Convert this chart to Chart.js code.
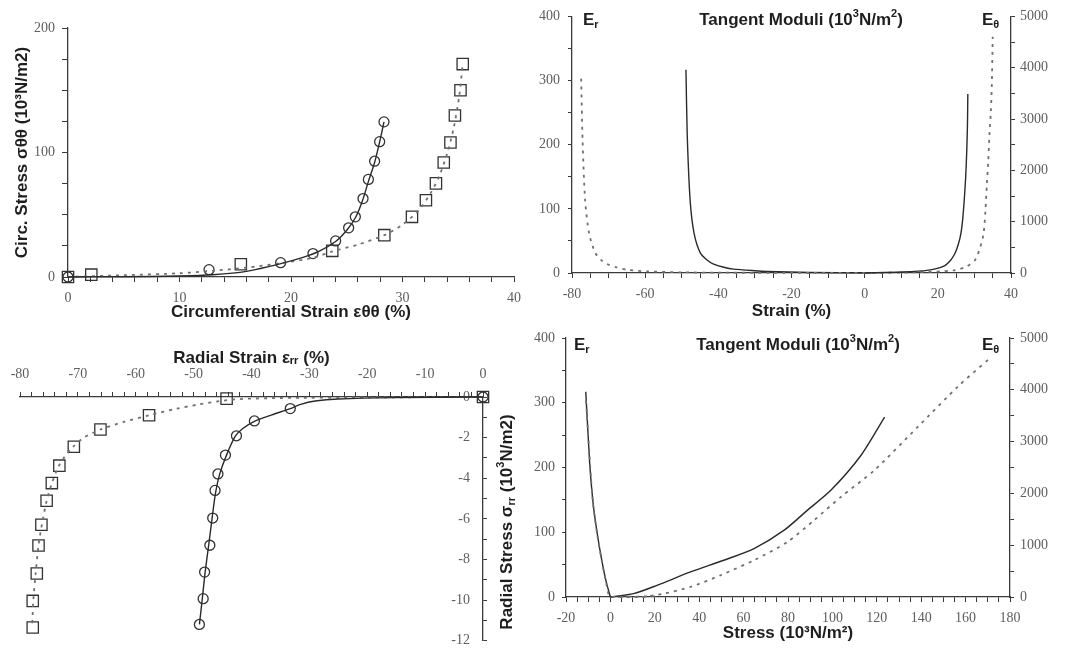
<!DOCTYPE html>
<html><head><meta charset="utf-8">
<script src="https://cdn.jsdelivr.net/npm/chart.js@4.4.0/dist/chart.umd.min.js"></script>
<style>
html,body{margin:0;padding:0;background:#fff;width:1067px;height:650px;overflow:hidden}
.c{position:absolute;left:0;top:0;width:1067px;height:650px}
</style></head><body>
<div class="c"><canvas id="c1"></canvas></div>
<div class="c"><canvas id="c2"></canvas></div>
<div class="c"><canvas id="c3"></canvas></div>
<div class="c"><canvas id="c4"></canvas></div>
<script>
// ---------- Panel 1: circumferential stress vs strain ----------
const p1CircleX = [0, 12.65, 19.07, 21.97, 24.0, 25.17, 25.77, 26.46, 26.94, 27.5, 27.95, 28.34];
const p1CircleY = [0, 5.9, 11.5, 18.8, 29, 39.5, 48.3, 63, 78.4, 93, 108.7, 124.6];
const p1SquareX = [0, 2.09, 15.5, 23.7, 28.37, 30.85, 32.1, 33.0, 33.7, 34.3, 34.7, 35.2, 35.4];
const p1SquareY = [0, 1.9, 10.2, 21, 33.6, 48.3, 61.7, 75.2, 92, 108, 129.7, 150, 171];
const p1SolidX = [0, 5, 10, 13, 16, 19, 21, 22.5, 24, 25, 25.8, 26.4, 26.95, 27.5, 27.95, 28.34];
const p1SolidY = [0, 0.2, 0.8, 1.8, 4.5, 10.5, 15.5, 20.5, 28.5, 37.5, 48, 61, 77, 92, 108.5, 124.6];
const p1DotX = [0, 5, 10, 13, 16, 19, 22, 23.7, 26, 28.37, 30, 31.5, 32.5, 33.3, 34, 34.6, 35.1, 35.4];
const p1DotY = [0, 1.5, 3, 5, 7.5, 11, 15.5, 20.5, 26, 33.6, 42, 54, 67, 81, 99, 120, 146, 171];
const p1XTicks = {min: 0, max: 40, minor: 2, major: 10};
const p1YTicks = {min: 0, max: 200, minor: 25, major: 100};

// ---------- Panel 2: tangent moduli vs strain ----------
const p2ErDotX = [-77.5, -77.1, -76.4, -75.3, -73.6, -72, -70.4, -68, -65, -59.5, -50, -40, -20, 0];
const p2ErDotY = [303, 205, 112.5, 61, 31, 20, 14, 9, 5, 2.5, 1, 0.5, 0.2, 0];
const p2ErSolidX = [-48.85, -48.5, -47.7, -46.6, -44.9, -43, -41.3, -38.5, -35.8, -30, -26.7, -15, 0];
const p2ErSolidY = [317, 215, 112.5, 61, 31, 20, 14, 9, 6, 3.5, 2.5, 0.8, 0];
const p2EtSolidX = [0, 10, 17, 21.5, 23.5, 24.7, 25.6, 26.3, 26.8, 27.2, 27.6, 27.9, 28.1, 28.2];
const p2EtSolidY = [0, 20, 51, 128, 250, 384, 560, 767, 1050, 1407, 1850, 2366, 2900, 3487];
const p2EtDotX = [0, 15, 24.3, 27.9, 30.2, 31.5, 32.5, 33.0, 33.4, 33.8, 34.1, 34.5, 34.75, 35.0];
const p2EtDotY = [0, 15, 51, 128, 256, 480, 767, 1200, 1727, 2200, 2686, 3150, 3645, 4604];
const p2XTicks = {min: -80, max: 40, minor: 5, major: 20};
const p2YTicks = {min: 0, max: 400, minor: 50, major: 100};
const p2Y1Ticks = {min: 0, max: 5000, minor: 500, major: 1000};

// ---------- Panel 3: radial stress vs radial strain ----------
const p3SquareX = [0, -44.3, -57.7, -66.1, -70.7, -73.2, -74.5, -75.4, -76.3, -76.8, -77.1, -77.8, -77.8];
const p3SquareY = [0, -0.08, -0.9, -1.6, -2.45, -3.38, -4.24, -5.11, -6.29, -7.31, -8.69, -10.04, -11.35];
const p3CircleX = [0, -33.3, -39.5, -42.6, -44.5, -45.8, -46.3, -46.7, -47.2, -48.1, -48.35, -49.0];
const p3CircleY = [0, -0.57, -1.18, -1.91, -2.86, -3.79, -4.6, -5.96, -7.3, -8.62, -9.93, -11.2];
const p3SolidX = [0, -15, -25, -29, -31.5, -33.3, -36.5, -39.5, -41.5, -42.8, -44.3, -45.5, -46.2, -46.8, -47.4, -48.0, -48.5, -49.0];
const p3SolidY = [0, -0.03, -0.1, -0.2, -0.36, -0.57, -0.88, -1.2, -1.55, -1.93, -2.85, -3.8, -4.7, -5.95, -7.3, -8.6, -9.93, -11.2];
const p3DotX = [0, -20, -35, -42, -45.5, -49, -53, -57.7, -62, -66.1, -69, -70.8, -72.3, -73.4, -74.5, -75.4, -76.2, -76.8, -77.3, -77.7, -77.9];
const p3DotY = [0, -0.02, -0.05, -0.1, -0.2, -0.36, -0.58, -0.9, -1.22, -1.6, -2.0, -2.45, -2.95, -3.45, -4.25, -5.12, -6.25, -7.3, -8.7, -10.0, -11.35];
const p3XTicks = {min: -80, max: 0, minor: 2, major: 10};
const p3YTicks = {min: -12, max: 0, minor: 1, major: 2};

// ---------- Panel 4: tangent moduli vs stress ----------
const p4ErSolidX = [-11.1, -10.2, -9.2, -7.6, -5.8, -3.9, -2, 0];
const p4ErSolidY = [317, 260, 200, 139, 95, 57, 25, 0];
const p4ErDotX = [-11.0, -9.8, -8, -6, -4, -2, 0, 10, 20];
const p4ErDotY = [303, 240, 150, 98, 58, 24, 0, 0.5, 1];
const p4EtSolidX = [0, 10.4, 21, 36.1, 51.1, 64.7, 78.3, 88.8, 99.4, 113, 123.5];
const p4EtSolidY = [0, 64, 226, 484, 710, 935, 1290, 1677, 2064, 2742, 3471];
const p4EtDotX = [0, 13.5, 24, 36.1, 49.6, 64.7, 79.8, 91.8, 103.9, 119, 138.6, 156.6, 171];
const p4EtDotY = [0, 0, 64, 194, 419, 710, 1064, 1484, 1935, 2451, 3290, 4065, 4613];
const p4XTicks = {min: -20, max: 180, minor: 5, major: 20};
const p4YTicks = {min: 0, max: 400, minor: 50, major: 100};
const p4Y1Ticks = {min: 0, max: 5000, minor: 500, major: 1000};

// ---------- helpers ----------
const pts = (xs, ys) => xs.map((x, i) => ({x, y: ys[i]}));
const TICK_FONT = {family: "'Liberation Serif', 'DejaVu Serif', serif", size: 14};
const TITLE_FONT = {family: "'Liberation Sans', Arial, sans-serif", size: 17, weight: 'bold'};
const AXIS_COLOR = '#3a3a3a';
const TICK_COLOR = '#5e5e5e';
const TITLE_COLOR = '#1e1e1e';

function axis(t, o) {
  return {
    type: 'linear',
    position: o.position,
    min: t.min, max: t.max,
    border: {display: true, color: AXIS_COLOR, width: 1.3},
    grid: {display: true, drawOnChartArea: false, drawTicks: true, tickLength: o.tickLength || 5,
           color: AXIS_COLOR, tickWidth: 1},
    ticks: {
      stepSize: t.minor, autoSkip: false, maxRotation: 0, minRotation: 0,
      padding: o.padding, color: TICK_COLOR, font: TICK_FONT, mirror: !!o.mirror,
      callback: (v) => (Math.abs(Math.round(v / t.major) * t.major - v) < 1e-9) ? String(Math.round(v)) : ''
    },
    title: o.title ? {display: true, text: o.title, font: TITLE_FONT, color: TITLE_COLOR, padding: 0} : {display: false},
    afterFit: (sc) => { if (sc.isHorizontal()) sc.height = o.size; else sc.width = o.size; }
  };
}

const freeText = {
  id: 'freeText',
  afterDraw(chart, args, opts) {
    const ctx = chart.ctx;
    (opts.items || []).forEach(it => {
      ctx.save();
      ctx.translate(it.x, it.y);
      if (it.rot) ctx.rotate(it.rot);
      let total = 0;
      it.parts.forEach(p => { ctx.font = p.font; total += ctx.measureText(p.t).width; });
      let x = it.align === 'center' ? -total / 2 : (it.align === 'right' ? -total : 0);
      ctx.textBaseline = 'middle';
      ctx.fillStyle = TITLE_COLOR;
      it.parts.forEach(p => { ctx.font = p.font; ctx.fillText(p.t, x, p.dy || 0); x += ctx.measureText(p.t).width; });
      ctx.restore();
    });
  }
};
Chart.register(freeText);

const F = (size) => "bold " + size + "px 'Liberation Sans', Arial, sans-serif";
function moduliTitle(cx, cy) {
  return {x: cx, y: cy, align: 'center', parts: [
    {t: 'Tangent Moduli (10', font: F(17)}, {t: '3', font: F(11), dy: -6},
    {t: 'N/m', font: F(17)}, {t: '2', font: F(11), dy: -6}, {t: ')', font: F(17)}]};
}
function eLabel(x, y, sub) {
  return {x, y, align: 'left', parts: [{t: 'E', font: F(17)}, {t: sub, font: F(11), dy: 5}]};
}

function curve(data, dashed, axisId) {
  return {data, showLine: true, pointRadius: 0, borderColor: dashed ? '#707070' : '#2a2a2a',
          borderWidth: dashed ? 1.8 : 1.4, borderDash: dashed ? [3, 5] : [], tension: 0.25,
          fill: false, yAxisID: axisId || 'y', clip: 4};
}
function markers(data, style, r) {
  return {data, showLine: false, pointStyle: style, pointRadius: r, borderColor: '#333',
          backgroundColor: 'rgba(0,0,0,0)', pointBorderWidth: 1.3, borderWidth: 1.3, clip: false};
}
function base(padding, scales, items) {
  return {
    responsive: true, maintainAspectRatio: false, animation: false, events: [],
    layout: {padding},
    plugins: {legend: {display: false}, tooltip: {enabled: false}, title: {display: false},
              freeText: {items: items || []}},
    scales
  };
}

// ---------- Chart 1 ----------
new Chart(document.getElementById('c1'), {
  type: 'scatter',
  data: {datasets: [
    curve(pts(p1SolidX, p1SolidY), false),
    curve(pts(p1DotX, p1DotY), true),
    markers(pts(p1CircleX, p1CircleY), 'circle', 5),
    markers(pts(p1SquareX, p1SquareY), 'rect', 8)
  ]},
  options: base({left: 12, right: 553, top: 28, bottom: 327}, {
    x: axis(p1XTicks, {position: 'bottom', size: 46, tickLength: 5, padding: 8, title: 'Circumferential Strain εθθ (%)'}),
    y: axis(p1YTicks, {position: 'left', size: 56, tickLength: 6, padding: 7, title: 'Circ. Stress σθθ (10³N/m2)'})
  })
});

// ---------- Chart 2 ----------
new Chart(document.getElementById('c2'), {
  type: 'scatter',
  data: {datasets: [
    curve(pts(p2ErDotX, p2ErDotY), true, 'y'),
    curve(pts(p2ErSolidX, p2ErSolidY), false, 'y'),
    curve(pts(p2EtSolidX, p2EtSolidY), false, 'y1'),
    curve(pts(p2EtDotX, p2EtDotY), true, 'y1')
  ]},
  options: base({left: 532, right: 11, top: 13, bottom: 328}, {
    x: axis(p2XTicks, {position: 'bottom', size: 49, tickLength: 5, padding: 8, title: 'Strain (%)'}),
    y: axis(p2YTicks, {position: 'left', size: 40, tickLength: 4, padding: 8}),
    y1: axis(p2Y1Ticks, {position: 'right', size: 45, tickLength: 4, padding: 5})
  }, [moduliTitle(801, 20), eLabel(583, 20, 'r'), eLabel(982, 20, 'θ')])
});

// ---------- Chart 3 ----------
new Chart(document.getElementById('c3'), {
  type: 'scatter',
  data: {datasets: [
    curve(pts(p3SolidX, p3SolidY), false),
    curve(pts(p3DotX, p3DotY), true),
    markers(pts(p3CircleX, p3CircleY), 'circle', 5),
    markers(pts(p3SquareX, p3SquareY), 'rect', 8)
  ]},
  options: base({left: 20, right: 569, top: 348, bottom: 8}, {
    x: axis(p3XTicks, {position: 'top', size: 49, tickLength: 5, padding: 9, title: 'Radial Strain εᵣᵣ (%)'}),
    y: axis(p3YTicks, {position: 'right', size: 15, tickLength: 4, padding: -13, mirror: true})
  }, [{x: 507, y: 522, rot: -Math.PI / 2, align: 'center', parts: [
    {t: 'Radial Stress σ', font: F(17)}, {t: 'rr', font: F(11), dy: 5},
    {t: ' (10', font: F(17)}, {t: '3', font: F(11), dy: -6}, {t: 'N/m2)', font: F(17)}]}])
});

// ---------- Chart 4 ----------
new Chart(document.getElementById('c4'), {
  type: 'scatter',
  data: {datasets: [
    curve(pts(p4ErDotX, p4ErDotY), true, 'y'),
    curve(pts(p4ErSolidX, p4ErSolidY), false, 'y'),
    curve(pts(p4EtSolidX, p4EtSolidY), false, 'y1'),
    curve(pts(p4EtDotX, p4EtDotY), true, 'y1')
  ]},
  options: base({left: 527, right: 12, top: 338, bottom: 6}, {
    x: axis(p4XTicks, {position: 'bottom', size: 47, tickLength: 5, padding: 8, title: 'Stress (10³N/m²)'}),
    y: axis(p4YTicks, {position: 'left', size: 39, tickLength: 4, padding: 7}),
    y1: axis(p4Y1Ticks, {position: 'right', size: 45, tickLength: 4, padding: 6})
  }, [moduliTitle(798, 345), eLabel(574, 345, 'r'), eLabel(982, 345, 'θ')])
});
</script>
</body></html>
